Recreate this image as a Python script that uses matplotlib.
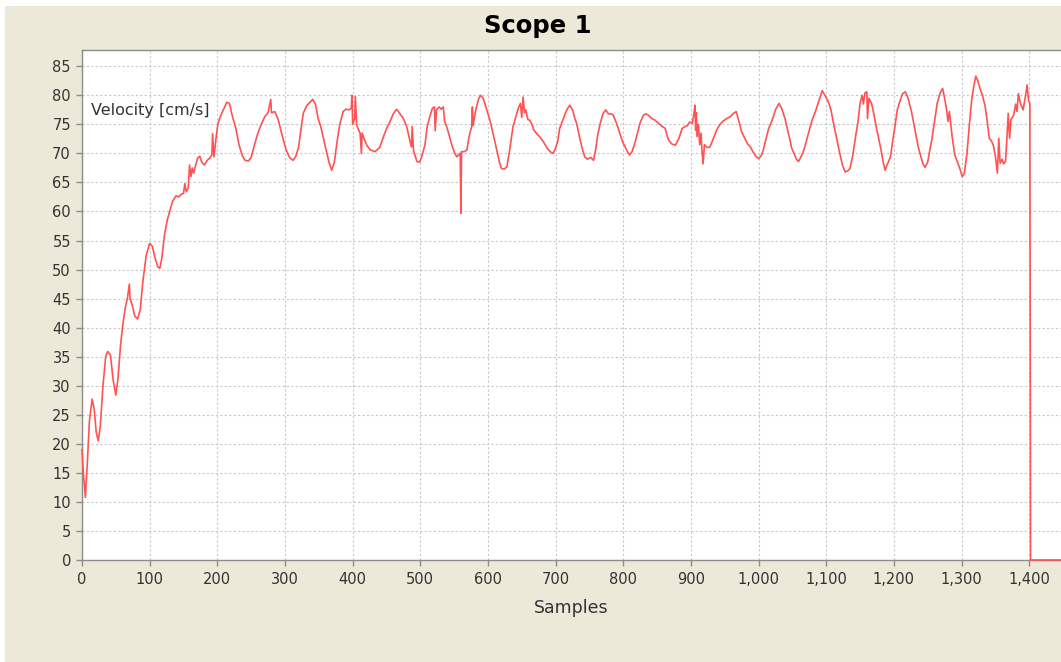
import numpy as np
import matplotlib
matplotlib.use("Agg")
import matplotlib.pyplot as plt
from matplotlib.patches import Rectangle
from matplotlib.ticker import FuncFormatter, MultipleLocator

# velocity trace (sample index, cm/s)
samples = [
    0, 2, 5, 8, 11, 15, 18, 21, 24, 27, 31, 35, 38, 42, 46, 50, 53, 57, 60, 64,
    67, 70, 71, 74, 78, 82, 86, 90, 95, 100, 104, 108, 112, 115, 118, 122, 126, 130, 134, 139,
    143, 147, 150, 152, 154, 157, 159, 161, 163, 165, 168, 171, 174, 177, 181, 185, 189, 192, 193, 195,
    198, 201, 205, 210, 214, 218, 222, 227, 232, 237, 241, 246, 250, 255, 260, 265, 270, 275, 279, 280,
    285, 290, 296, 302, 307, 312, 316, 320, 323, 327, 332, 337, 341, 345, 349, 353, 357, 361, 365, 369,
    373, 377, 381, 386, 390, 395, 398, 399, 400, 403, 404, 406, 409, 411, 413, 414, 417, 421, 426, 433,
    440, 446, 451, 455, 460, 465, 470, 475, 480, 484, 487, 488, 490, 495, 499, 502, 507, 510, 514, 518,
    521, 522, 524, 528, 531, 534, 536, 539, 543, 547, 551, 554, 557, 559, 560, 561, 565, 569, 572, 574,
    576, 577, 578, 582, 586, 589, 593, 597, 603, 608, 613, 617, 620, 624, 628, 632, 637, 641, 645, 648,
    650, 652, 654, 656, 659, 662, 665, 668, 672, 677, 682, 687, 692, 696, 699, 703, 706, 709, 713, 717,
    721, 725, 728, 731, 735, 739, 743, 747, 752, 756, 759, 762, 766, 770, 774, 778, 782, 785, 789, 792,
    795, 799, 804, 809, 813, 817, 821, 825, 830, 834, 837, 842, 846, 850, 854, 858, 862, 865, 867, 872,
    877, 882, 887, 891, 895, 898, 902, 904, 906, 907, 908, 909, 911, 913, 915, 916, 918, 920, 924, 928,
    933, 938, 943, 948, 953, 958, 963, 967, 971, 975, 980, 984, 988, 992, 996, 1000, 1004, 1007, 1011, 1015,
    1020, 1025, 1030, 1034, 1039, 1043, 1046, 1049, 1053, 1056, 1059, 1063, 1067, 1071, 1075, 1079, 1084, 1089, 1094, 1098,
    1103, 1107, 1111, 1116, 1120, 1124, 1128, 1132, 1135, 1139, 1143, 1147, 1150, 1153, 1155, 1157, 1160, 1161, 1163, 1167,
    1170, 1174, 1177, 1181, 1184, 1187, 1191, 1195, 1198, 1202, 1205, 1209, 1213, 1217, 1221, 1226, 1230, 1233, 1236, 1240,
    1243, 1246, 1250, 1253, 1256, 1260, 1264, 1268, 1272, 1275, 1278, 1280, 1282, 1286, 1290, 1294, 1298, 1301, 1304, 1308,
    1312, 1315, 1318, 1321, 1324, 1328, 1331, 1335, 1338, 1341, 1344, 1347, 1350, 1353, 1355, 1357, 1360, 1362, 1365, 1367,
    1369, 1371, 1373, 1377, 1380, 1382, 1384, 1387, 1391, 1394, 1397, 1399, 1401, 1402, 1447,
]
velocity = [
    19, 15, 10.8, 17, 24, 27.7, 26, 22, 20.5, 23, 30, 35, 35.9, 35.3, 31, 28.4, 31, 37, 40.2, 43.5,
    45, 47.5, 45, 44, 42, 41.5, 43, 48, 52.5, 54.5, 54, 52, 50.5, 50.2, 52, 56, 58.5, 60.2, 61.8, 62.7,
    62.5, 63, 63.1, 64.8, 63.4, 64, 68, 66, 67.5, 66.6, 68, 69.2, 69.5, 68.5, 68, 68.8, 69.2, 69.8, 73.4, 69.4,
    72.5, 75.2, 76.5, 77.8, 78.8, 78.6, 76.5, 74.5, 71.5, 69.6, 68.8, 68.7, 69.3, 71.5, 73.5, 75, 76.3, 77, 79.3, 77,
    77.2, 75.8, 73, 70.5, 69.3, 68.8, 69.5, 71, 73.5, 76.9, 78.2, 78.8, 79.3, 78.5, 76, 74.6, 72.5, 70.5, 68.5, 67.1,
    68.5, 72, 75, 77.2, 77.6, 77.5, 77.8, 80, 75, 76, 79.8, 74.9, 74, 73.5, 70, 73.5, 72.5, 71.4, 70.6, 70.3,
    71, 73, 74.5, 75.4, 76.8, 77.6, 76.8, 76, 74.6, 72.5, 71.1, 74.6, 70.5, 68.6, 68.5, 69.4, 71.5, 74.5, 76.3, 77.8,
    78, 73.9, 77.5, 78, 77.6, 78, 75.5, 74.6, 73, 71.3, 70, 69.4, 69.8, 70, 59.7, 70.3, 70.3, 70.6, 72.8, 73.8,
    74.6, 78, 74.8, 77.5, 79.3, 80, 79.5, 78, 75.7, 73.2, 70.6, 68.5, 67.4, 67.3, 67.7, 70.5, 74.6, 76.2, 77.8, 78.6,
    76.2, 79.7, 77, 77.5, 75.8, 75.7, 75, 74, 73.4, 72.8, 72, 71, 70.3, 70, 70.6, 72, 74.3, 75.2, 76.5, 77.6,
    78.3, 77.5, 76.2, 75.2, 73, 71, 69.4, 69, 69.3, 68.8, 70.5, 73, 75.2, 76.8, 77.5, 76.8, 76.8, 76.6, 75.5, 74.5,
    73.4, 72, 70.8, 69.7, 70.3, 71.7, 73.5, 75.3, 76.6, 76.8, 76.6, 76, 75.8, 75.4, 75, 74.6, 74.3, 73, 72.3, 71.6,
    71.4, 72.5, 74.3, 74.6, 74.8, 75.4, 75.2, 76.5, 78.3, 74, 77, 72.9, 75, 71.5, 73.5, 71.1, 68.2, 71.5, 71, 71.1,
    72.5, 74, 75, 75.6, 76, 76.3, 76.9, 77.2, 75.5, 73.7, 72.5, 71.6, 71.1, 70.2, 69.5, 69.1, 69.6, 70.6, 72.5, 74.3,
    75.7, 77.5, 78.6, 77.8, 76, 74, 72.5, 70.9, 69.8, 69, 68.6, 69.5, 70.6, 72.3, 74, 75.7, 77.2, 79, 80.8, 80,
    78.9, 77.5, 75, 72.3, 70, 68, 66.8, 67, 67.4, 69.5, 72.6, 75.5, 78.6, 80, 78.5, 80.4, 80.6, 76, 79.5, 78.6,
    77, 74.5, 72.9, 70.6, 68.6, 67.1, 68.3, 69.4, 72, 75, 77.5, 79, 80.3, 80.6, 79.5, 77.2, 74.8, 73, 71.1, 69.4,
    68.2, 67.6, 68.5, 70.5, 72.3, 75.5, 78.6, 80.3, 81.2, 79.5, 77.5, 75.5, 77.2, 73, 69.7, 68.5, 67.2, 66, 66.5, 70,
    75.5, 79.2, 81.5, 83.3, 82.5, 80.9, 80, 78, 75.5, 72.6, 72.2, 71.4, 69.5, 66.6, 72.6, 68.3, 69, 68.2, 68.6, 72.5,
    76.9, 72.6, 75.8, 76.6, 78.5, 77.2, 80.3, 78.6, 77.5, 79.5, 81.8, 79, 78.6, 0, 0,
]

y_ticks = list(range(0, 90, 5))
x_ticks = list(range(0, 1500, 100))

BEIGE = "#ece9d8"

fig = plt.figure(figsize=(10.61, 6.62), dpi=100)
fig.patch.set_facecolor("white")
fig.patches.append(Rectangle((5 / 1061, 0), 1, 1 - 6 / 662, transform=fig.transFigure,
                             facecolor=BEIGE, edgecolor="none", zorder=-10))

ax = fig.add_axes([82 / 1061, 102 / 662, 979 / 1061, 510 / 662])
ax.set_facecolor("white")

ax.plot(samples, velocity, color="#ff5252", linewidth=1.2, clip_on=False, zorder=3)

ax.set_xlim(0, 1447)
ax.set_ylim(0, 87.8)
ax.set_yticks(y_ticks)
ax.set_xticks(x_ticks)
ax.xaxis.set_major_formatter(FuncFormatter(lambda v, p: f"{v:,.0f}"))

ax.grid(True, color="#c8c8c8", linestyle=(0, (2, 2)), linewidth=0.8)
ax.set_axisbelow(True)

for side in ["left", "bottom", "top"]:
    ax.spines[side].set_color("#8c8c8c")
    ax.spines[side].set_linewidth(1.0)
ax.spines["right"].set_visible(False)

ax.tick_params(axis="both", colors="#8c8c8c", labelcolor="#333333", length=4,
               width=1.0, labelsize=10.5)
ax.tick_params(axis="y", pad=4)
ax.tick_params(axis="x", pad=5)

ax.set_xlabel("Samples", fontsize=12.5, color="#333333", labelpad=8)

ax.text(9 / 979, 0.882, "Velocity [cm/s]", transform=ax.transAxes, fontsize=11.5,
        color="#333333", va="center", ha="left")

fig.text(538 / 1061, 1 - 26 / 662, "Scope 1", fontsize=17.5, fontweight="bold",
         ha="center", va="center", color="black")

fig.savefig("out.png", dpi=100, facecolor=fig.get_facecolor())
